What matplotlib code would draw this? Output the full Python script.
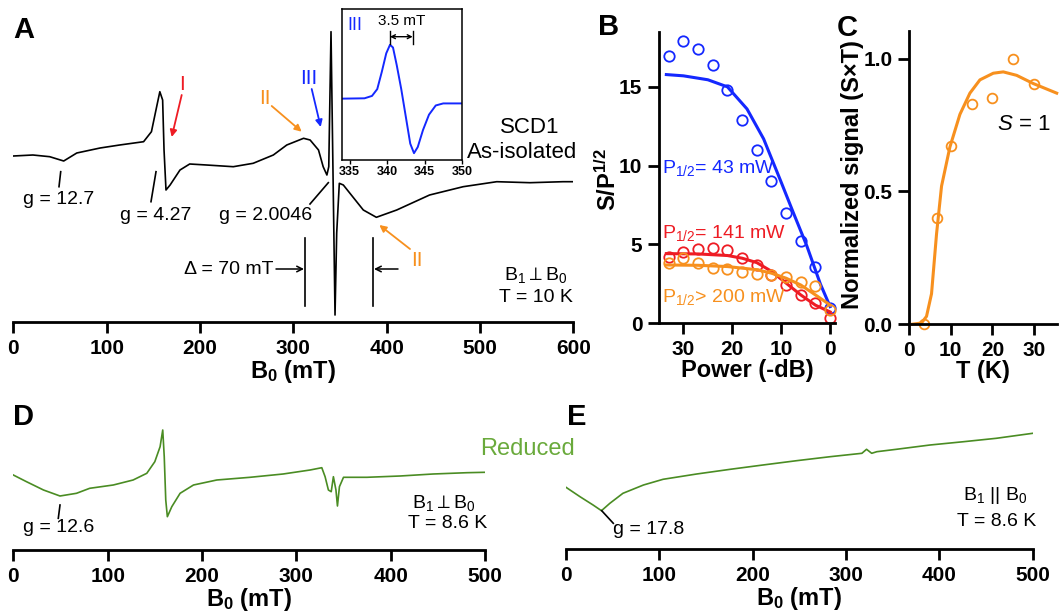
import matplotlib
matplotlib.use("Agg")
import matplotlib.pyplot as plt
from matplotlib.lines import Line2D
from matplotlib.patches import FancyArrowPatch

plt.rcParams['font.family'] = ['Liberation Sans', 'DejaVu Sans']
plt.rcParams['mathtext.fontset'] = 'custom'
plt.rcParams['mathtext.rm'] = 'Liberation Sans'
plt.rcParams['mathtext.it'] = 'Liberation Sans:italic'
plt.rcParams['mathtext.bf'] = 'Liberation Sans:bold'
plt.rcParams['mathtext.default'] = 'regular'

# ---- data ----
# A: as-isolated spectrum (field in mT, signal in arbitrary units)
a_field = [0, 21, 39, 54, 68, 93, 114, 139.6, 148, 153.6, 157, 160, 161.5, 163.6, 168,
           178.6, 189, 207, 235.7, 257, 278.6, 293, 311, 318, 327, 332, 336, 338, 340.4,
           344.7, 346.5, 349.3, 353.6, 360.7, 375, 389, 410.8, 446, 482, 518, 553.6, 589, 601]
a_signal = [166, 167, 165.3, 161, 169, 174, 177, 180.3, 190.3, 215.3, 230.3, 222, 172, 132, 137,
            152, 158, 157, 155.3, 158.7, 167, 177, 183.7, 182, 172, 155.3, 147, 155.3, 290.3,
            7, 89, 138.7, 137, 128.7, 112, 104.7, 112, 127, 135.3, 140.3, 139.3, 140.3, 140.3]

# A inset: signal III
inset_field = [334, 337, 338, 338.7, 339.3, 339.9, 340.4, 340.8, 341.3, 341.9, 342.5, 343.1,
               343.6, 344.1, 344.8, 345.6, 346.5, 347.5, 350]
inset_signal = [180, 181, 188, 208, 258, 313, 338, 330, 278, 208, 128, 48,
                20, 38, 88, 133, 160, 166, 166]

# B: power saturation (power in -dB, S/P^1/2)
power_db = [33, 30, 27, 24, 21, 18, 15, 12, 9, 6, 3, 0]
sat_blue = [16.95, 17.9, 17.4, 16.4, 14.8, 12.9, 11.0, 9.0, 7.0, 5.2, 3.6, 0.95]
sat_red = [4.23, 4.55, 4.7, 4.77, 4.62, 4.17, 3.7, 3.07, 2.43, 1.8, 1.27, 0.32]
sat_orange = [3.81, 4.13, 3.81, 3.53, 3.43, 3.28, 3.13, 3.07, 2.96, 2.64, 2.37, 0.85]

fit_blue_x = [33.5, 30, 25, 21, 17, 13.6, 10.2, 7.5, 4.75, 2, 0]
fit_blue_y = [15.78, 15.7, 15.45, 15.0, 13.6, 11.7, 9.1, 7.0, 4.9, 2.5, 1.06]
fit_red_x = [33.5, 27, 21, 18, 15, 12, 9, 6, 3, 0]
fit_red_y = [4.42, 4.4, 4.3, 4.13, 3.85, 3.3, 2.55, 1.8, 1.15, 0.72]
fit_orange_x = [33.5, 27, 21, 15, 12, 9, 6, 3, 0]
fit_orange_y = [3.7, 3.68, 3.6, 3.4, 3.18, 2.86, 2.43, 1.8, 1.16]

# C: temperature dependence
temp_k = [3.6, 6.8, 10, 15, 20, 25, 30]
norm_signal = [0.0, 0.40, 0.67, 0.83, 0.85, 1.0, 0.906]
fit_temp = [0.6, 3, 4.2, 5.4, 6.6, 7.8, 9.8, 12.2, 14.6, 17, 20.2, 22.6, 25.8, 29.8, 35.4]
fit_signal = [0, 0.005, 0.03, 0.115, 0.34, 0.52, 0.667, 0.79, 0.87, 0.92, 0.945, 0.95,
              0.937, 0.906, 0.87]

# D: reduced, perpendicular mode
d_field = [0, 14, 32, 49.5, 67, 81, 106, 127, 141.5, 150, 155.6, 158.4, 160, 161.6, 163.3,
           168, 176.8, 191, 215.7, 251, 286, 314.6, 327, 330.5, 334, 337, 339.3, 342, 343.6,
           345.7, 350, 374.8, 410, 445, 480.8, 500]
d_signal = [75, 68.3, 60, 54, 56.7, 61.7, 65, 70, 76.7, 88.3, 103.3, 120, 93.3, 50, 33.3,
            43.3, 56.7, 65, 70, 72.7, 76, 80, 82.3, 73.3, 60, 58.3, 73.3, 60, 44,
            63.3, 72.7, 72.7, 74, 76, 77.3, 77.7]

# E: reduced, parallel mode
e_field = [0, 15, 29, 38, 47, 61, 83, 104, 140, 176, 211, 247, 283, 317, 322, 327.5, 333,
           354, 390, 426, 461, 500]
e_signal = [62, 52.6, 44.3, 38.6, 46, 56, 64.3, 70, 75.3, 80, 84.3, 88.6, 92.6, 96, 100, 96,
            97.6, 100, 104.3, 107.6, 111, 116]

field_ticks = [0, 100, 200, 300, 400, 500, 600]

BLUE = '#1428ff'
RED = '#ee1c24'
ORANGE = '#f7901e'
GREEN = '#4a8c23'
LIGHT_GREEN = '#6aaa3c'

W, H = 1060, 616
fig = plt.figure(figsize=(W / 100, H / 100), dpi=100)


def box(left, top, right, bottom):
    return [left / W, 1 - bottom / H, (right - left) / W, (bottom - top) / H]


def note(s, x, y, size=14, **kw):
    kw.setdefault('ha', 'center')
    kw.setdefault('va', 'center')
    fig.text(x / W, 1 - y / H, s, fontsize=size, **kw)


def line(x0, y0, x1, y1, color='black', lw=1.2):
    fig.add_artist(Line2D([x0 / W, x1 / W], [1 - y0 / H, 1 - y1 / H],
                          transform=fig.transFigure, color=color, lw=lw))


def arrow(x0, y0, x1, y1, color='black', style='-|>', lw=1.3, scale=10):
    fig.add_artist(FancyArrowPatch((x0 / W, 1 - y0 / H), (x1 / W, 1 - y1 / H),
                                   transform=fig.transFigure, arrowstyle=style,
                                   color=color, lw=lw, mutation_scale=scale,
                                   shrinkA=0, shrinkB=0))


def style(ax, xticks, yticks=None, xfmt='{:g}', yfmt='{:g}', size=15):
    ax.patch.set_alpha(0)
    ax.spines['top'].set_visible(False)
    ax.spines['right'].set_visible(False)
    for s in ax.spines.values():
        s.set_linewidth(2)
    ax.set_xticks(xticks, [xfmt.format(t) for t in xticks], fontweight='bold', fontsize=size)
    if yticks is None:
        ax.spines['left'].set_visible(False)
        ax.set_yticks([])
    else:
        ax.set_yticks(yticks, [yfmt.format(t) for t in yticks], fontweight='bold', fontsize=size)
    ax.tick_params(width=2, length=8, pad=4)


# ---- A ----
axA = fig.add_axes(box(13.3, 8, 573.3, 322))
axA.plot(a_field, a_signal, color='black', lw=1.2)
axA.set_xlim(0, 600)
axA.set_ylim(0, 314)
style(axA, field_ticks)
axA.set_xlabel(r'B$_0$ (mT)', fontsize=17, fontweight='bold', labelpad=0)

note('g = 12.7', 58.5, 199)
line(60.7, 171.7, 59, 186.7)
note('g = 4.27', 156, 215)
line(156, 171.7, 151, 201.7)
note('g = 2.0046', 266, 215)
line(310, 204, 328.3, 182.7)
note('I', 181.7, 84, size=15, color=RED)
arrow(181.7, 95, 171.7, 137, color=RED)
note('II', 265, 99, size=15, color=ORANGE)
arrow(271.7, 106, 301.7, 131.7, color=ORANGE)
note('III', 309, 79, size=15, color=BLUE)
arrow(311.7, 89, 320.7, 127, color=BLUE)
note('II', 417, 261, size=15, color=ORANGE)
arrow(410, 249, 379.3, 225, color=ORANGE)
note('SCD1', 530, 127, size=16)
note('As-isolated', 522, 152, size=16)
note(r'B$_1\perp$B$_0$', 536, 275)
note('T = 10 K', 536, 297)
note('Δ = 70 mT', 274, 270, ha='right')
arrow(276, 269, 304, 269, style='->', lw=1.1)
line(305, 238, 305, 306)
line(372.7, 238, 372.7, 306)
arrow(398, 269, 374, 269, style='->', lw=1.1)
note('A', 13, 30, size=21, fontweight='bold', ha='left')

# inset
axI = fig.add_axes(box(342, 9, 462, 160))
axI.plot(inset_field, inset_signal, color=BLUE, lw=1.4)
axI.set_xlim(334, 350)
axI.set_ylim(0, 443)
axI.set_xticks([335, 340, 345, 350], ['335', '340', '345', '350'], fontweight='bold', fontsize=9)
axI.set_yticks([])
axI.tick_params(width=1, length=3, pad=1)
for s in axI.spines.values():
    s.set_linewidth(1.1)
note('III', 355, 25, size=13, color=BLUE)
note('3.5 mT', 401.7, 20.7, size=11)
arrow(390, 36.7, 412.7, 36.7, style='<->', lw=1, scale=7)
line(390, 30.7, 390, 44, lw=1)
line(412.7, 30.7, 412.7, 44, lw=1)

# ---- B ----
axB = fig.add_axes(box(659, 31.7, 835, 323.3))
for fx, fy, px, c in [(fit_blue_x, fit_blue_y, sat_blue, BLUE),
                      (fit_red_x, fit_red_y, sat_red, RED),
                      (fit_orange_x, fit_orange_y, sat_orange, ORANGE)]:
    axB.plot(fx, fy, color=c, lw=2.2, clip_on=False)
    axB.plot(power_db, px, 'o', mfc='none', mec=c, ms=7.5, mew=1.3, clip_on=False)
axB.set_xlim(35, -1)
axB.set_ylim(0, 18.5)
style(axB, [30, 20, 10, 0], [0, 5, 10, 15])
axB.set_xlabel('Power (-dB)', fontsize=17, fontweight='bold', labelpad=0)
note(r'S/P$^{1/2}$', 608, 180, size=17, fontweight='bold', rotation=90)
note(r'P$_{1/2}$= 43 mW', 661.7, 168, color=BLUE, ha='left')
note(r'P$_{1/2}$= 141 mW', 661.7, 233, color=RED, ha='left')
note(r'P$_{1/2}$> 200 mW', 661.7, 297, color=ORANGE, ha='left')
note('B', 598, 27, size=21, fontweight='bold', ha='left')

# ---- C ----
axC = fig.add_axes(box(909, 30.7, 1056.7, 324.3))
axC.plot(fit_temp, fit_signal, color=ORANGE, lw=2.2, clip_on=False)
axC.plot(temp_k, norm_signal, 'o', mfc='none', mec=ORANGE, ms=7, mew=1.3, clip_on=False)
axC.set_xlim(0, 35.4)
axC.set_ylim(0, 1.105)
style(axC, [0, 10, 20, 30], [0.0, 0.5, 1.0], yfmt='{:.1f}')
axC.set_xlabel('T (K)', fontsize=17, fontweight='bold', labelpad=0)
note('Normalized signal (S×T)', 853, 175, size=17, fontweight='bold', rotation=90)
note(r'$\mathit{S}$ = 1', 1024, 124, size=16)
note('C', 837, 28, size=21, fontweight='bold', ha='left')

# ---- D ----
axD = fig.add_axes(box(13.3, 400, 485, 550))
axD.plot(d_field, d_signal, color=GREEN, lw=1.2)
axD.set_xlim(0, 500)
axD.set_ylim(0, 150)
style(axD, field_ticks[:6])
axD.set_xlabel(r'B$_0$ (mT)', fontsize=17, fontweight='bold', labelpad=0)
note('g = 12.6', 58.3, 528)
line(60, 505, 58.3, 518.3)
note(r'B$_1\perp$B$_0$', 444, 503)
note('T = 8.6 K', 448, 523)
note('Reduced', 527, 449, size=17, color=LIGHT_GREEN)
note('D', 13, 417, size=21, fontweight='bold', ha='left')

# ---- E ----
axE = fig.add_axes(box(566, 400, 1032.7, 549.3))
axE.plot(e_field, e_signal, color=GREEN, lw=1.2)
axE.set_xlim(0, 500)
axE.set_ylim(0, 149.3)
style(axE, field_ticks[:6])
axE.set_xlabel(r'B$_0$ (mT)', fontsize=17, fontweight='bold', labelpad=0)
note('g = 17.8', 649, 530)
line(601.7, 510.7, 613.3, 523.3)
note(r'B$_1$ || B$_0$', 995, 496)
note('T = 8.6 K', 996.7, 521.5)
note('E', 567, 417, size=21, fontweight='bold', ha='left')

fig.savefig('out.png', dpi=100)
